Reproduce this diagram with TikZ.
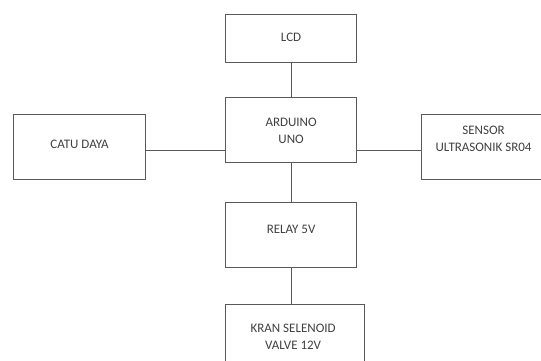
\documentclass[tikz,border=0pt]{standalone}
\usepackage{fontspec}
\setmainfont{Carlito}
\begin{document}
\begin{tikzpicture}[x=1pt,y=-1pt,
  blk/.style={draw=black!65,line width=1.2pt,minimum width=131pt,minimum height=65pt,inner sep=0pt,anchor=north west},
  txt/.style={text=black!75,font=\fontsize{13}{17}\selectfont,align=center,inner sep=0pt},
  wire/.style={draw=black!65,line width=1.2pt}]
\useasboundingbox (0,0) rectangle (541,360);
\node[blk,minimum height=48pt] (lcd) at (225,14) {};
\node[blk] (ard) at (225,97) {};
\node[blk,minimum width=132pt] (catu) at (13,114) {};
\node[blk,minimum width=124pt] (sens) at (421,114) {};
\node[blk] (rel) at (225,202) {};
\node[blk,minimum width=139pt,minimum height=70pt] (kran) at (225,304) {};
\node[txt] at ([yshift=-23pt]lcd.north) {LCD};
\node[txt] at ([yshift=-34pt]ard.north) {ARDUINO\\UNO};
\node[txt] at ([yshift=-30pt]catu.north) {CATU DAYA};
\node[txt] at ([yshift=-25pt]sens.north) {SENSOR\\ULTRASONIK SR04};
\node[txt] at ([yshift=-27pt]rel.north) {RELAY 5V};
\node[txt] at ([xshift=-2pt,yshift=-33pt]kran.north) {KRAN SELENOID\\VALVE 12V};
\draw[wire] (lcd.south) -- (ard.north);
\draw[wire] (ard.south) -- (rel.north);
\draw[wire] (rel.south) -- (rel.south |- kran.north);
\draw[wire] ([yshift=-3.5pt]catu.east) -- ([yshift=-3.5pt]catu.east -| ard.west);
\draw[wire] ([yshift=-3.5pt]catu.east -| ard.east) -- ([yshift=-3.5pt]catu.east -| sens.west);
\end{tikzpicture}
\end{document}
